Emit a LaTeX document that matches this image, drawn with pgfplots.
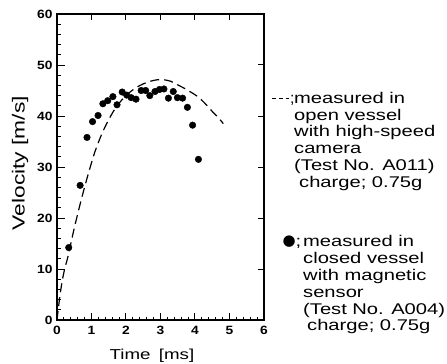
\documentclass[border=0pt]{standalone}
\usepackage{fontspec}
\setmainfont{Liberation Sans}
\newfontfamily\dejavu{DejaVu Sans}
\usepackage{graphicx}
\usepackage{pgfplots}
\pgfplotsset{compat=1.18}
\newcommand{\W}[1]{\scalebox{1.3}[1]{#1}}
\newcommand{\dsh}{\rule[4.3pt]{3.6pt}{1.2pt}}
\begin{document}
\begin{tikzpicture}
\useasboundingbox (-57pt,-44pt) rectangle (390pt,320pt);
\begin{axis}[
  at={(0,0)}, anchor=south west,
  scale only axis, width=207pt, height=306pt,
  xmin=0, xmax=6, ymin=0, ymax=60,
  xtick={0,1,2,3,4,5,6}, ytick={0,10,20,30,40,50,60},
  minor x tick num=4, minor y tick num=4,
  xtick pos=bottom, ytick pos=left,
  tick align=inside,
  major tick length=7.5pt, minor tick length=3.5pt,
  every tick/.style={black, line width=1pt},
  axis line style={line width=1.3pt},
  /pgf/number format/assume math mode=true,
  xticklabel={\scalebox{1.15}[1]{\pgfmathprintnumber{\tick}}},
  yticklabel={\scalebox{1.15}[1]{\pgfmathprintnumber{\tick}}},
  ticklabel style={font=\fontsize{12}{14}\selectfont\bfseries},
  xticklabel style={yshift=-2.5pt},
  yticklabel style={xshift=-1pt},
  xlabel={\W{Time\ \,[ms]}},
  ylabel={\W{Velocity [m/s]}},
  xlabel style={font=\fontsize{14.4}{16}\selectfont, at={(axis description cs:0.459,0)}, anchor=base, yshift=-39pt},
  ylabel style={font=\fontsize{17.5}{19}\selectfont, at={(axis description cs:-0.1787,0.513)}, anchor=center},
  clip=false,
]
\addplot[black, line width=1.2pt, dash pattern=on 9pt off 5pt, smooth] coordinates {
(0,0) (0.08,4.5) (0.16,8) (0.24,10.5) (0.32,12.5) (0.5,18) (0.7,23.5) (0.9,28.5)
(1.1,33) (1.3,36.5) (1.5,39.3) (1.7,41.6) (1.9,43.3) (2.1,44.6) (2.3,45.6) (2.5,46.3)
(2.7,46.8) (2.9,47.1) (3.1,47.1) (3.3,46.8) (3.5,46.1) (3.7,45.4) (3.9,44.6) (4.1,43.7)
(4.3,42.4) (4.5,40.9) (4.7,39.5) (4.82,38.5)
};
\addplot[only marks, mark=*, mark size=3.3pt, black] coordinates {
(0.34,14.2) (0.67,26.4) (0.87,35.8) (1.03,38.9) (1.19,40.1) (1.33,42.4) (1.47,43.0)
(1.62,43.8) (1.74,42.2) (1.89,44.7) (2.02,44.1) (2.15,43.6) (2.29,43.3) (2.44,45.0)
(2.57,45.0) (2.69,44.0) (2.84,44.8) (2.97,45.2) (3.10,45.3) (3.23,43.5) (3.37,44.8)
(3.49,43.6) (3.64,43.5) (3.78,41.7) (3.93,38.2) (4.10,31.5)
};
\end{axis}
\begin{axis}[
  at={(0,0)}, anchor=south west,
  scale only axis, width=207pt, height=306pt,
  xmin=0, xmax=6, ymin=0, ymax=60,
  xtick={0,1,2,3,4,5,6}, ytick={0,10,20,30,40,50,60},
  xtick pos=top, ytick pos=right,
  xticklabels={}, yticklabels={},
  tick align=inside, major tick length=6pt,
  every tick/.style={black, line width=1pt},
  axis line style={line width=1.3pt},
]
\end{axis}
\begin{scope}[every node/.style={anchor=base west, inner sep=0pt, font=\fontsize{15.5}{16.8}\selectfont}]
\node at (215pt,216.7pt) {\dsh\hspace{3.2pt}\dsh\hspace{3.2pt}\dsh\hspace{0.8pt};};
\node at (237pt,216.7pt) {\W{measured in}};
\node at (237pt,199.9pt) {\W{open vessel}};
\node at (237pt,183.1pt) {\W{with high-speed}};
\node at (237pt,166.3pt) {\W{camera}};
\node at (237pt,149.5pt) {\W{(Test No. A011)}};
\node at (242pt,132.7pt) {\W{charge; 0.75g}};
\node at (225.5pt,74pt) {\dejavu\fontsize{15}{16}\selectfont ●};
\node at (238.5pt,73pt) {\W{;}};
\node at (246pt,73pt) {\W{measured in}};
\node at (246pt,56.2pt) {\W{closed vessel}};
\node at (246pt,39.4pt) {\W{with magnetic}};
\node at (246pt,22.6pt) {\W{sensor}};
\node at (246pt,5.8pt) {\W{(Test No. A004)}};
\node at (250pt,-11pt) {\W{charge; 0.75g}};
\end{scope}
\end{tikzpicture}
\end{document}
